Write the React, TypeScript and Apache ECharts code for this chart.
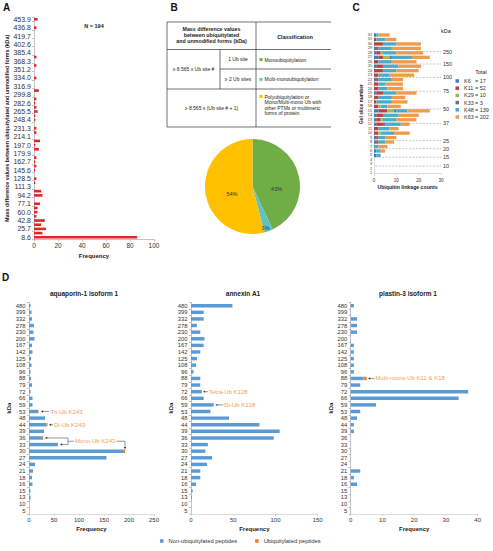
import React, { useEffect, useRef } from 'react';
import * as echarts from 'echarts';

const FONT = '"Liberation Sans", Arial, Helvetica, sans-serif';

// ---------- Panel A ----------
const massDiffCategories = [
  '8.6', '17.1', '25.7', '34.3', '42.8', '51.4', '60.0', '68.5', '77.1', '85.7',
  '94.2', '102.8', '111.3', '119.9', '128.5', '137.0', '145.6', '154.2', '162.7', '171.3',
  '179.9', '188.4', '197.0', '205.6', '214.1', '222.7', '231.3', '239.8', '248.4', '257.0',
  '265.5', '274.1', '282.6', '291.2', '299.8', '308.3', '316.9', '325.5', '334.0', '342.6',
  '351.2', '359.7', '368.3', '376.9', '385.4', '394.0', '402.6', '411.1', '419.7', '428.3',
  '436.8', '445.4', '453.9',
];
const massDiffFrequency = [
  86, 7, 10, 6, 9, 2, 3, 3, 5, 0,
  7, 6, 0, 1, 2, 0, 1, 2, 1, 2,
  0, 4, 1, 5, 0, 2, 2, 0, 1, 1,
  3, 2, 1, 2, 0, 4, 0, 0, 2, 0,
  0, 2, 0, 2, 0, 0, 0, 0, 0, 0,
  2, 0, 3,
];

// ---------- Panel B ----------
const classNames = ['Monoubiquitylation', 'Multi-monoubiquitylation', 'Polyubiquitylation or Mono/Multi-mono Ub with other PTMs or multimeric forms of protein'];
const classShares = [43, 3, 54];
const classColors = ['#70AD47', '#5EC4C3', '#FFC000'];

// ---------- Panel C ----------
const gelSlices = Array.from({ length: 32 }, (_, i) => String(i + 1));
const linkageNames = ['K6', 'K11', 'K29', 'K33', 'K48', 'K63'];
const linkageTotals = [17, 52, 10, 3, 139, 202];
const linkageColors = ['#3F7CC0', '#B8423D', '#9BBB59', '#7E62A1', '#4BACC6', '#F09A4C'];
const k6Counts = [0, 0, 0, 0, 1, 1, 0, 1, 1, 0, 0, 1, 1, 1, 2, 0, 0, 0, 1, 0, 0, 1, 0, 0, 1, 0, 2, 1, 1, 0, 0, 1];
const k11Counts = [0, 0, 0, 0, 0, 0, 0, 1, 1, 2, 2, 3, 2, 3, 4, 2, 1, 2, 3, 2, 2, 1, 2, 4, 3, 2, 2, 2, 1, 4, 1, 0];
const k29Counts = [0, 0, 0, 0, 0, 0, 0, 0, 0, 1, 0, 0, 1, 0, 3, 1, 0, 0, 0, 0, 0, 0, 0, 0, 0, 0, 3, 1, 0, 0, 0, 0];
const k33Counts = [0, 0, 0, 0, 0, 0, 0, 0, 0, 0, 0, 1, 0, 0, 1, 0, 0, 0, 0, 0, 0, 0, 0, 0, 0, 0, 1, 0, 0, 0, 0, 0];
const k48Counts = [0, 0, 0, 0, 2, 2, 2, 3, 3, 6, 5, 7, 6, 7, 5, 3, 7, 6, 6, 4, 3, 6, 5, 6, 7, 6, 9, 6, 6, 6, 4, 1];
const k63Counts = [0, 0, 0, 0, 0, 2, 4, 4, 5, 7, 4, 4, 9, 9, 10, 6, 7, 6, 9, 7, 8, 5, 11, 10, 10, 11, 8, 12, 13, 11, 5, 5];
const markerKda = ['250', '150', '100', '75', '50', '37', '25', '20', '15', '10'];
const markerSlice = [28.3, 25.5, 22.5, 19.4, 15.4, 12.2, 8.3, 6.5, 4.6, 2.6];

// ---------- Panel D ----------
const kdaCategories = ['5', '10', '13', '15', '16', '18', '21', '24', '27', '30', '33', '36', '39', '44', '48', '53', '59', '66', '72', '79', '88', '96', '108', '125', '142', '167', '200', '230', '278', '332', '399', '480'];
const aquaporinNonUb = [0, 0, 3, 3, 7, 6, 8, 12, 155, 188, 56, 26, 30, 35, 32, 18, 7, 7, 3, 6, 4, 3, 5, 4, 7, 6, 11, 9, 10, 6, 5, 3];
const aquaporinUb = [0, 0, 0, 0, 0, 0, 0, 0, 0, 4, 2, 2, 0, 2, 0, 1, 0, 0, 0, 0, 0, 0, 0, 0, 0, 0, 0, 0, 0, 0, 0, 0];
const annexinNonUb = [0, 0, 1, 2, 6, 11, 11, 19, 25, 17, 20, 98, 105, 81, 45, 23, 26, 15, 12, 11, 11, 3, 6, 7, 11, 15, 16, 11, 7, 15, 15, 49];
const annexinUb = [0, 0, 0, 0, 0, 0, 0, 0, 0, 0, 0, 0, 0, 0, 0, 0, 1, 0, 1, 0, 0, 0, 0, 0, 0, 0, 0, 0, 0, 0, 0, 0];
const plastinNonUb = [0, 0, 0, 0, 2, 1, 3, 0, 0, 0, 0, 0, 1, 1, 2, 3, 8, 34, 37, 3, 4, 1, 1, 1, 1, 1, 0, 2, 2, 2, 0, 1];
const plastinUb = [0, 0, 0, 0, 0, 0, 0, 0, 0, 0, 0, 0, 0, 0, 0, 0, 0, 0, 0, 0, 1, 0, 0, 0, 0, 0, 0, 0, 0, 0, 0, 0];
const dTitles = ['aquaporin-1 isoform 1', 'annexin A1', 'plastin-3 isoform 1'];
const dMax = [250, 150, 40];
const dInterval = [50, 50, 10];

const BLUE = '#5B9BD5';
const ORANGE = '#ED7D31';
const ANNOT = '#F0A060';
const AXIS = '#9a9a9a';
const LABEL = '#333';

const axisLine = { show: true, lineStyle: { color: AXIS, width: 0.6 } };
const axisTick = (len: number) => ({ show: true, length: len, lineStyle: { color: AXIS, width: 0.6 } });

function txt(text: string, x: number, y: number, size: number, opts: any = {}) {
  return {
    type: 'text', x, y, silent: true,
    style: {
      text, fontSize: size, fontFamily: FONT, fontWeight: opts.bold ? 'bold' : 'normal',
      fill: opts.color || '#222', align: opts.align || 'center', verticalAlign: 'middle',
    },
  };
}
function ln(x1: number, y1: number, x2: number, y2: number, color = '#333', w = 0.7) {
  return { type: 'line', silent: true, shape: { x1, y1, x2, y2 }, style: { stroke: color, lineWidth: w } };
}
function arrow(x1: number, y1: number, x2: number, y2: number, color = '#333') {
  const ang = Math.atan2(y2 - y1, x2 - x1);
  const L = 2.2, W = 1.2;
  const bx = x2 - L * Math.cos(ang), by = y2 - L * Math.sin(ang);
  const nx = -Math.sin(ang), ny = Math.cos(ang);
  return [
    ln(x1, y1, bx, by, color, 0.5),
    { type: 'polygon', silent: true, shape: { points: [[x2, y2], [bx + nx * W, by + ny * W], [bx - nx * W, by - ny * W]] }, style: { fill: color } },
  ];
}
function measure(t: string, size: number) {
  const c = document.createElement('canvas').getContext('2d');
  if (!c) return t.length * size * 0.55;
  c.font = `${size}px ${FONT}`;
  return c.measureText(t).width;
}

function buildOption(): any {
  const grids = [
    { left: 34, top: 17.2, width: 120, height: 222.2 },
    { left: 374, top: 32.8, width: 67, height: 142.7 },
    { left: 29, top: 302.4, width: 125, height: 211.6 },
    { left: 191, top: 302.4, width: 126.7, height: 211.6 },
    { left: 350.7, top: 302.4, width: 127, height: 211.6 },
  ];
  const nameStyle = (s: number) => ({ fontSize: s, fontWeight: 'bold', color: '#222', fontFamily: FONT });

  const xAxis: any[] = [
    {
      gridIndex: 0, type: 'value', min: 0, max: 100, interval: 20, splitLine: { show: false },
      axisLine, axisTick: axisTick(2), axisLabel: { fontSize: 6.5, color: LABEL, margin: 3 },
      name: 'Frequency', nameLocation: 'middle', nameGap: 14, nameTextStyle: nameStyle(6),
    },
    {
      gridIndex: 1, type: 'value', min: 0, max: 30, interval: 10, splitLine: { show: false },
      axisLine: { show: true, lineStyle: { color: '#bbb', width: 0.5 } }, axisTick: { show: true, length: 1.5, lineStyle: { color: '#bbb', width: 0.5 } },
      axisLabel: { fontSize: 4.5, color: LABEL, margin: 2 },
      name: 'Ubiquitin linkage counts', nameLocation: 'middle', nameGap: 9, nameTextStyle: nameStyle(5.2),
    },
  ];
  const yAxis: any[] = [
    {
      gridIndex: 0, type: 'category', data: massDiffCategories,
      axisLine, axisTick: axisTick(2), axisLabel: { interval: 1, fontSize: 7, color: LABEL, margin: 3 },
      name: 'Mass difference values between ubiquitylated and unmodified forms (kDa)',
      nameLocation: 'middle', nameRotate: 90, nameGap: 23, nameTextStyle: nameStyle(5.3),
    },
    {
      gridIndex: 1, type: 'category', data: gelSlices,
      axisLine: { show: true, lineStyle: { color: '#bbb', width: 0.5 } }, axisTick: { show: false },
      axisLabel: { interval: 0, fontSize: 3.8, color: LABEL, margin: 2 },
      name: 'Gel slice number', nameLocation: 'middle', nameRotate: 90, nameGap: 11, nameTextStyle: nameStyle(5),
    },
    { gridIndex: 1, type: 'value', min: -0.5, max: 31.5, show: false },
  ];
  for (let k = 0; k < 3; k++) {
    xAxis.push({
      gridIndex: 2 + k, type: 'value', min: 0, max: dMax[k], interval: dInterval[k], splitLine: { show: false },
      axisLine: { show: true, lineStyle: { color: '#c4c4c4', width: 0.6 } }, axisTick: { show: true, length: 2, lineStyle: { color: '#c4c4c4', width: 0.6 } },
      axisLabel: { fontSize: 6, color: LABEL, margin: 3 },
      name: 'Frequency', nameLocation: 'middle', nameGap: 12, nameTextStyle: nameStyle(6),
    });
    yAxis.push({
      gridIndex: 2 + k, type: 'category', data: kdaCategories,
      axisLine, axisTick: axisTick(2), axisLabel: { interval: 0, fontSize: 5.8, color: LABEL, margin: 3.5 },
      name: 'kDa', nameLocation: 'middle', nameRotate: 90, nameGap: [16, 17, 15.5][k], nameTextStyle: nameStyle(6),
    });
  }

  const series: any[] = [
    {
      type: 'bar', name: 'Mass difference frequency', xAxisIndex: 0, yAxisIndex: 0,
      data: massDiffFrequency, barWidth: '62%', itemStyle: { color: '#E3242B' },
    },
    {
      type: 'pie', name: 'Classification', center: [252.5, 186.5], radius: 47.5, startAngle: 90, clockwise: true,
      data: classNames.map((n, i) => ({ name: n, value: classShares[i], itemStyle: { color: classColors[i] } })),
      label: { show: true, position: 'inside', formatter: (p: any) => p.value + '%', fontSize: 5.5, color: '#333', fontFamily: FONT },
      labelLine: { show: false },
      labelLayout: (p: any) => [{ dx: -1, dy: 4 }, { dx: 2, dy: 8 }, { dx: 3, dy: 2 }][p.dataIndex],
      silent: true,
    },
  ];
  const linkSeries = [k6Counts, k11Counts, k29Counts, k33Counts, k48Counts, k63Counts];
  linkageNames.forEach((n, i) => {
    series.push({
      type: 'bar', name: n, stack: 'linkage', xAxisIndex: 1, yAxisIndex: 1,
      data: linkSeries[i], barWidth: '74%', itemStyle: { color: linkageColors[i] }, z: 3,
    });
  });
  markerKda.forEach((kda, i) => {
    series.push({
      type: 'line', name: 'marker ' + kda, xAxisIndex: 1, yAxisIndex: 2,
      data: [[0.5, markerSlice[i] - 1], [30, markerSlice[i] - 1]], symbol: 'none', silent: true, z: 1,
      lineStyle: { type: [2, 1.4], color: '#8a8a8a', width: 0.5 },
      endLabel: { show: true, formatter: kda, fontSize: 5.5, color: '#333', distance: 2, fontFamily: FONT },
    });
  });
  const dNon = [aquaporinNonUb, annexinNonUb, plastinNonUb];
  const dUb = [aquaporinUb, annexinUb, plastinUb];
  for (let k = 0; k < 3; k++) {
    series.push({
      type: 'bar', name: 'Non-ubiquitylated peptides', stack: 'd' + k, xAxisIndex: 2 + k, yAxisIndex: 3 + k,
      data: dNon[k], barWidth: '52%', itemStyle: { color: BLUE },
    });
    series.push({
      type: 'bar', name: 'Ubiquitylated peptides', stack: 'd' + k, xAxisIndex: 2 + k, yAxisIndex: 3 + k,
      data: dUb[k], barWidth: '52%', itemStyle: { color: ORANGE },
    });
  }

  return {
    animation: false,
    backgroundColor: '#ffffff',
    textStyle: { fontFamily: FONT },
    grid: grids,
    xAxis, yAxis, series,
    legend: [
      {
        data: linkageNames, orient: 'vertical', left: 455.5, top: 78, padding: 0,
        itemWidth: 3.5, itemHeight: 3.5, itemGap: 1.2,
        icon: 'rect', selectedMode: false,
        formatter: (name: string) => `{a|${name}}{b|= ${linkageTotals[linkageNames.indexOf(name)]}}`,
        textStyle: {
          fontSize: 5.5, lineHeight: 6, color: '#333',
          rich: { a: { width: 11, fontSize: 5.5, color: '#333' }, b: { fontSize: 5.5, color: '#333' } },
        },
      },
      {
        data: ['Non-ubiquitylated peptides', 'Ubiquitylated peptides'], left: 160, top: 538, padding: 0,
        itemWidth: 3.5, itemHeight: 3.5, itemGap: 18, icon: 'rect', selectedMode: false,
        textStyle: { fontSize: 5.8, color: '#333', lineHeight: 6 },
      },
    ],
  };
}

function tableGraphics(): any[] {
  const l = 167, r = 331, t = 22, h = 49.5, r1 = 69, r2 = 89, b = 127, xi = 220, xm = 256;
  const g: any[] = [
    ln(l, t, r, t), ln(l, h, r, h), ln(xi, r1, r, r1), ln(l, r2, r, r2), ln(l, b, r, b),
    ln(l, t, l, b), ln(xm, t, xm, b), ln(xi, h, xi, r2),
  ];
  const hx = (l + xm) / 2;
  g.push(txt('Mass difference values', hx, 29, 5.3, { bold: true }));
  g.push(txt('between ubiquitylated', hx, 35, 5.3, { bold: true }));
  g.push(txt('and unmodified forms (kDa)', hx, 41, 5.3, { bold: true }));
  g.push(txt('Classification', 295, 37, 5.5, { bold: true }));
  g.push(txt('\u2265 8.565 x Ub site #', (l + xi) / 2, 69, 5));
  g.push(txt('1 Ub site', 238, 59.3, 5));
  g.push(txt('\u2265 2 Ub sites', 238, 79.3, 5));
  g.push(txt('\u2265 8.565 x (Ub site # + 1)', hx, 108.3, 5));
  const sq = (y: number, c: string) => ({ type: 'rect', silent: true, shape: { x: 259.5, y: y - 1.5, width: 3, height: 3 }, style: { fill: c } });
  g.push(sq(59.6, classColors[0]), txt('Monoubiquitylation', 264.5, 59.6, 5, { align: 'left' }));
  g.push(sq(79.4, classColors[1]), txt('Multi-monoubiquitylation', 264.5, 79.4, 5, { align: 'left' }));
  g.push(sq(96.5, classColors[2]));
  ['Polyubiquitylation or', 'Mono/Multi-mono Ub with', 'other PTMs or multimeric', 'forms of protein'].forEach((s, i) => {
    g.push(txt(s, 264.5, 96.5 + i * 5.6, 5, { align: 'left' }));
  });
  return g;
}

export default function App() {
  const ref = useRef<HTMLDivElement>(null);
  useEffect(() => {
    if (!ref.current) return;
    const chart = echarts.init(ref.current, null, { renderer: 'svg' });
    chart.setOption(buildOption());

    const px = (xi: number, yi: number, v: number, c: string) =>
      chart.convertToPixel({ xAxisIndex: xi, yAxisIndex: yi } as any, [v, c] as any) as unknown as number[];
    const totAt = (a: number[], b: number[], c: string) => {
      const i = kdaCategories.indexOf(c);
      return a[i] + b[i];
    };
    const g: any[] = [];
    g.push(txt('A', 6.5, 7, 10, { bold: true, color: '#111' }));
    g.push(txt('B', 174, 7.5, 10, { bold: true, color: '#111' }));
    g.push(txt('C', 356, 7, 10, { bold: true, color: '#111' }));
    g.push(txt('D', 5.5, 277, 10, { bold: true, color: '#111' }));
    g.push(txt('N = 194', 94, 25.5, 5.5, { bold: true }));
    g.push(txt('kDa', 446, 31, 5.5));
    g.push(txt('Total', 481, 72, 5.5));
    g.push(txt(dTitles[0], 84, 293, 6.5, { bold: true }));
    g.push(txt(dTitles[1], 243, 293, 6.5, { bold: true }));
    g.push(txt(dTitles[2], 408, 293, 6.5, { bold: true }));
    g.push(...tableGraphics());

    const fs = 6;
    const p53 = px(2, 3, totAt(aquaporinNonUb, aquaporinUb, '53'), '53');
    g.push(...arrow(p53[0] + 10.5, p53[1], p53[0] + 2.5, p53[1]));
    g.push(txt('Tri-Ub K243', p53[0] + 12, p53[1], fs, { align: 'left', color: ANNOT }));
    const p44 = px(2, 3, totAt(aquaporinNonUb, aquaporinUb, '44'), '44');
    g.push(...arrow(p44[0] + 5.5, p44[1], p44[0] + 1.5, p44[1]));
    g.push(txt('Di-Ub K243', p44[0] + 6.5, p44[1], fs, { align: 'left', color: ANNOT }));
    const p36 = px(2, 3, totAt(aquaporinNonUb, aquaporinUb, '36'), '36');
    const p33 = px(2, 3, totAt(aquaporinNonUb, aquaporinUb, '33'), '33');
    const p30 = px(2, 3, totAt(aquaporinNonUb, aquaporinUb, '30'), '30');
    const bx = p33[0] + 10;
    const midY = (p36[1] + p33[1]) / 2;
    g.push(...arrow(bx, p36[1], p36[0] + 2, p36[1]));
    g.push(...arrow(bx, p33[1], p33[0] + 2, p33[1]));
    g.push(ln(bx, p36[1], bx, p33[1], '#333', 0.5));
    g.push(ln(bx, midY, bx + 6, midY, '#333', 0.5));
    const monoText = 'Mono-Ub K243';
    const w = measure(monoText, fs);
    g.push(txt(monoText, bx + 7, midY, fs, { align: 'left', color: ANNOT }));
    g.push(ln(bx + 8 + w, midY, p30[0], midY, '#333', 0.5));
    g.push(...arrow(p30[0], midY, p30[0], p30[1] - 2));

    const p72 = px(3, 4, totAt(annexinNonUb, annexinUb, '72'), '72');
    g.push(...arrow(p72[0] + 6, p72[1], p72[0] + 1, p72[1]));
    g.push(txt('Tetra-Ub K128', p72[0] + 7, p72[1], fs, { align: 'left', color: ANNOT }));
    const p59 = px(3, 4, totAt(annexinNonUb, annexinUb, '59'), '59');
    g.push(...arrow(p59[0] + 9.5, p59[1], p59[0] + 1.5, p59[1]));
    g.push(txt('Di-Ub K128', p59[0] + 10.5, p59[1], fs, { align: 'left', color: ANNOT }));

    const p88 = px(4, 5, totAt(plastinNonUb, plastinUb, '88'), '88');
    g.push(...arrow(p88[0] + 8, p88[1], p88[0] + 1.5, p88[1]));
    g.push(txt('Multi-mono-Ub K11 & K18', p88[0] + 9, p88[1], fs, { align: 'left', color: ANNOT }));

    chart.setOption({ graphic: g });
    return () => chart.dispose();
  }, []);
  return (
    <div
      ref={ref}
      style={{ position: 'fixed', left: 0, top: 0, width: 493, height: 551, background: '#fff' }}
    />
  );
}
